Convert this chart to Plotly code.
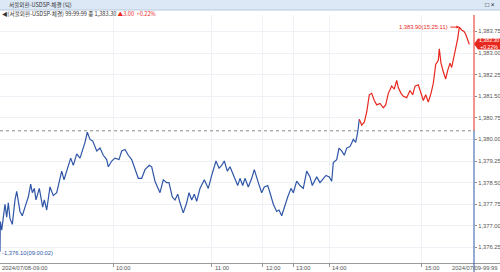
import plotly.graph_objects as go

# ---- data (tick sequence number, price) ----
tick_no = [0, 3, 17, 50, 67, 83, 100, 123, 150, 167, 200, 223, 250, 283, 307, 323, 343, 360, 393, 427, 443,
           467, 500, 533, 567, 583, 617, 640, 683, 707, 733, 767, 800, 827, 850, 873, 900, 927, 967, 1000,
           1033, 1067, 1083, 1117, 1150, 1190, 1217, 1250, 1283, 1317, 1350, 1383, 1417, 1450, 1493, 1517,
           1550, 1583, 1600, 1633, 1667, 1690, 1723, 1750, 1777, 1800, 1833, 1867, 1890, 1917, 1943, 1967,
           2000, 2043, 2083, 2117, 2160, 2190, 2217, 2243, 2273, 2300, 2333, 2377, 2400, 2427, 2450, 2483,
           2517, 2543, 2583, 2617, 2643, 2677, 2700, 2733, 2767, 2790, 2817, 2843, 2877, 2910, 2933, 2967,
           3000, 3033, 3067, 3100, 3123, 3167, 3200, 3260, 3293, 3317, 3333, 3367, 3390, 3417, 3443, 3467,
           3500, 3533, 3557, 3577, 3593, 3617, 3643, 3667, 3693, 3717, 3743, 3767, 3800, 3833, 3857, 3883,
           3917, 3943, 3967, 3983, 4010, 4033, 4067, 4100, 4127, 4150, 4183, 4210, 4233, 4257, 4283, 4310,
           4333, 4357, 4383, 4393, 4410, 4433, 4457, 4477, 4500, 4517, 4550, 4577, 4593, 4617, 4640, 4657,
           4683, 4693]
price = [1376.10, 1377.15, 1376.85, 1377.75, 1377.30, 1377.80, 1377.25, 1377.05, 1377.90, 1378.20, 1377.50,
         1377.35, 1377.65, 1378.00, 1378.45, 1378.15, 1378.30, 1377.90, 1378.30, 1377.65, 1377.90,
         1377.55, 1378.35, 1378.05, 1378.15, 1378.40, 1378.90, 1378.60, 1379.10, 1379.35, 1379.10, 1379.50,
         1379.35, 1379.65, 1379.90, 1380.25, 1380.00, 1379.95, 1379.60, 1379.70,
         1379.45, 1379.30, 1379.05, 1379.25, 1379.35, 1379.30, 1379.60, 1379.65, 1379.45, 1379.30, 1378.95,
         1378.65, 1378.65, 1378.95, 1379.10, 1379.05,
         1378.55, 1378.25, 1378.15, 1378.60, 1378.50, 1378.50, 1378.00, 1377.90, 1378.10, 1377.80, 1377.45,
         1377.80, 1378.15, 1377.90, 1378.10, 1377.85,
         1378.30, 1378.60, 1378.30, 1378.75, 1379.25, 1379.00, 1379.10, 1379.25, 1378.90, 1379.05, 1378.75,
         1378.40, 1378.65, 1378.40, 1378.65, 1378.35,
         1378.65, 1378.95, 1378.50, 1378.15, 1378.35, 1378.40, 1378.15, 1377.75, 1377.50, 1377.55, 1377.35,
         1377.65, 1378.00, 1378.30, 1378.15, 1378.55,
         1378.40, 1378.30, 1378.90, 1378.70, 1378.40, 1378.70, 1378.50, 1378.75, 1378.70, 1378.55, 1379.20,
         1379.30, 1379.70, 1379.60, 1379.45, 1379.70,
         1379.75, 1380.00, 1379.90, 1380.25, 1380.70, 1380.50, 1380.60, 1380.95, 1381.55, 1381.60, 1381.35,
         1381.20, 1381.25, 1381.10, 1381.20, 1381.60,
         1381.85, 1381.75, 1382.05, 1381.80, 1381.60, 1381.50, 1381.45, 1381.70, 1381.55, 1381.85, 1381.90,
         1381.55, 1381.35, 1381.55, 1381.30, 1381.60,
         1381.95, 1382.60, 1382.75, 1383.15, 1382.65, 1382.35, 1382.10, 1382.40, 1382.65, 1382.50, 1383.05,
         1383.50, 1383.90, 1383.80, 1383.75, 1383.65,
         1383.40, 1383.30]
prev_close = 1380.30
last_price = 1383.30
change = 3.00
change_pct = 0.22
high_label = "1,383.90(15:25:11)"
low_label = "-1,376.10(09:00:02)"

hour_ticks = [0, 1130, 2117, 2627, 2933, 3290, 4217]
hour_labels = ["2024/07/08-09:00", "10:00", "11:00", "12:00", "13:00", "14:00", "15:00"]
end_tick = 4740
end_label = "2024/07/09-99:99"

y_ticks = [1376.25, 1377.00, 1377.75, 1378.50, 1379.25, 1380.00, 1380.75, 1381.50, 1382.25, 1383.00, 1383.75]
y_range = [1375.71, 1384.32]

# ---- layout helpers (pixel -> paper) ----
W, H = 500, 272
def px(x): return x / W
def py(y): return 1 - y / H

BLUE = "#2f56a6"
RED = "#e8281e"
KFONT = "Noto Sans CJK KR, Liberation Sans, sans-serif"
NFONT = "Liberation Sans, Arial, sans-serif"

# split into blue (below prev close) and red (above) parts
k = next(i for i, p in enumerate(price) if p >= prev_close and i > 40)

fig = go.Figure()
fig.add_trace(go.Scatter(x=tick_no[:k + 1], y=price[:k + 1], mode="lines",
                         line=dict(color=BLUE, width=1.2), hoverinfo="skip"))
fig.add_trace(go.Scatter(x=tick_no[k:], y=price[k:], mode="lines",
                         line=dict(color=RED, width=1.2), hoverinfo="skip"))

shapes = []
# title bar
shapes.append(dict(type="rect", xref="paper", yref="paper", x0=0, x1=1, y0=py(10), y1=py(0),
                   fillcolor="#dce8f6", line=dict(width=0), layer="below"))
shapes.append(dict(type="line", xref="paper", yref="paper", x0=0, x1=1, y0=py(10), y1=py(10),
                   line=dict(color="#b7c9de", width=1)))
# prev close dotted line
shapes.append(dict(type="line", xref="x", yref="y", x0=0, x1=end_tick, y0=prev_close, y1=prev_close,
                   line=dict(color="#8a8a8a", width=1, dash="dot")))
# x axis line full width
shapes.append(dict(type="line", xref="paper", yref="paper", x0=0, x1=1, y0=py(263.5), y1=py(263.5),
                   line=dict(color="#9a9a9a", width=1)))
# colored y axis line
shapes.append(dict(type="line", xref="paper", yref="y", x0=px(474), x1=px(474), y0=prev_close, y1=y_range[1],
                   line=dict(color=RED, width=1)))
shapes.append(dict(type="line", xref="paper", yref="paper", x0=px(474), x1=px(474), y0=py(272),
                   y1=py(130.3), line=dict(color=BLUE, width=1)))
# current price box
shapes.append(dict(type="path", xref="paper", yref="paper",
                   path=f"M {px(474)},{py(44)} L {px(478)},{py(38.5)} L {px(500)},{py(38.5)} "
                        f"L {px(500)},{py(49.5)} L {px(478)},{py(49.5)} Z",
                   fillcolor=RED, line=dict(width=0)))

ann = []
ann.append(dict(xref="paper", yref="paper", x=px(7), y=py(4.5), xanchor="left", yanchor="middle",
                text="서울외환-USDSP-체결 (틱)", showarrow=False, font=dict(family=KFONT, size=5.6, color="#333")))
ann.append(dict(xref="paper", yref="paper", x=px(497), y=py(4.5), xanchor="right", yanchor="middle",
                text="□ ×", showarrow=False, font=dict(family=NFONT, size=6.5, color="#222")))
ann.append(dict(xref="paper", yref="paper", x=px(0), y=py(13.8), xanchor="left", yanchor="middle",
                text=(f"◀(서울외환-USDSP-체결) 99:99:99 종 {last_price:,.2f} "
                      f"<span style='color:{RED}'>▲{change:.2f}  +{change_pct:.2f}%</span>"),
                showarrow=False, font=dict(family=KFONT, size=5.6, color="#333")))
# high label with arrow
hi_i = price.index(max(price))
ann.append(dict(xref="x", yref="y", x=tick_no[hi_i], y=price[hi_i], ax=-9, ay=0, axref="pixel",
                text=high_label, xanchor="right", showarrow=True, arrowhead=2, arrowsize=0.6,
                arrowwidth=1, arrowcolor=RED, font=dict(family=NFONT, size=5.8, color=RED)))
# low label
ann.append(dict(xref="paper", yref="paper", x=px(0), y=py(253), xanchor="left", yanchor="middle",
                text=low_label, showarrow=False, font=dict(family=NFONT, size=5.8, color=BLUE)))
# current price text
ann.append(dict(xref="paper", yref="paper", x=px(488.5), y=py(44), xanchor="center", yanchor="middle",
                text=f"{last_price:,.2f}<br>+{change_pct:.2f}%", showarrow=False,
                font=dict(family=NFONT, size=5.2, color="white")))
# x tick labels
for t, lab in zip(hour_ticks, hour_labels):
    xp = px(474) * t / end_tick
    ann.append(dict(xref="paper", yref="paper", x=xp + (0.002 if t else 0), y=py(267.8),
                    xanchor="left", yanchor="middle", text=lab, showarrow=False,
                    font=dict(family=NFONT, size=5.8, color="#555")))
ann.append(dict(xref="paper", yref="paper", x=px(499), y=py(267.8), xanchor="right", yanchor="middle",
                text=end_label, showarrow=False, font=dict(family=NFONT, size=5.8, color="#555")))

fig.update_layout(
    width=W, height=H, margin=dict(l=0, r=0, t=0, b=0),
    paper_bgcolor="white", plot_bgcolor="white", showlegend=False,
    shapes=shapes, annotations=ann,
    xaxis=dict(domain=[0, px(474)], range=[0, end_tick], tickvals=hour_ticks[1:], showticklabels=False,
               ticks="outside", ticklen=3, tickcolor="#999", showgrid=True, gridcolor="#eef1f5",
               zeroline=False, showline=False, automargin=False, fixedrange=True),
    yaxis=dict(domain=[py(263), py(15)], range=y_range, side="right", tickvals=y_ticks,
               ticktext=[f"{v:,.2f}" for v in y_ticks], ticks="outside", ticklen=2, tickcolor="#888",
               tickfont=dict(family=NFONT, size=5.8, color="#555"), showgrid=True, gridcolor="#eef1f5",
               zeroline=False, showline=False, automargin=False, fixedrange=True),
)

fig.write_html("out.html")
